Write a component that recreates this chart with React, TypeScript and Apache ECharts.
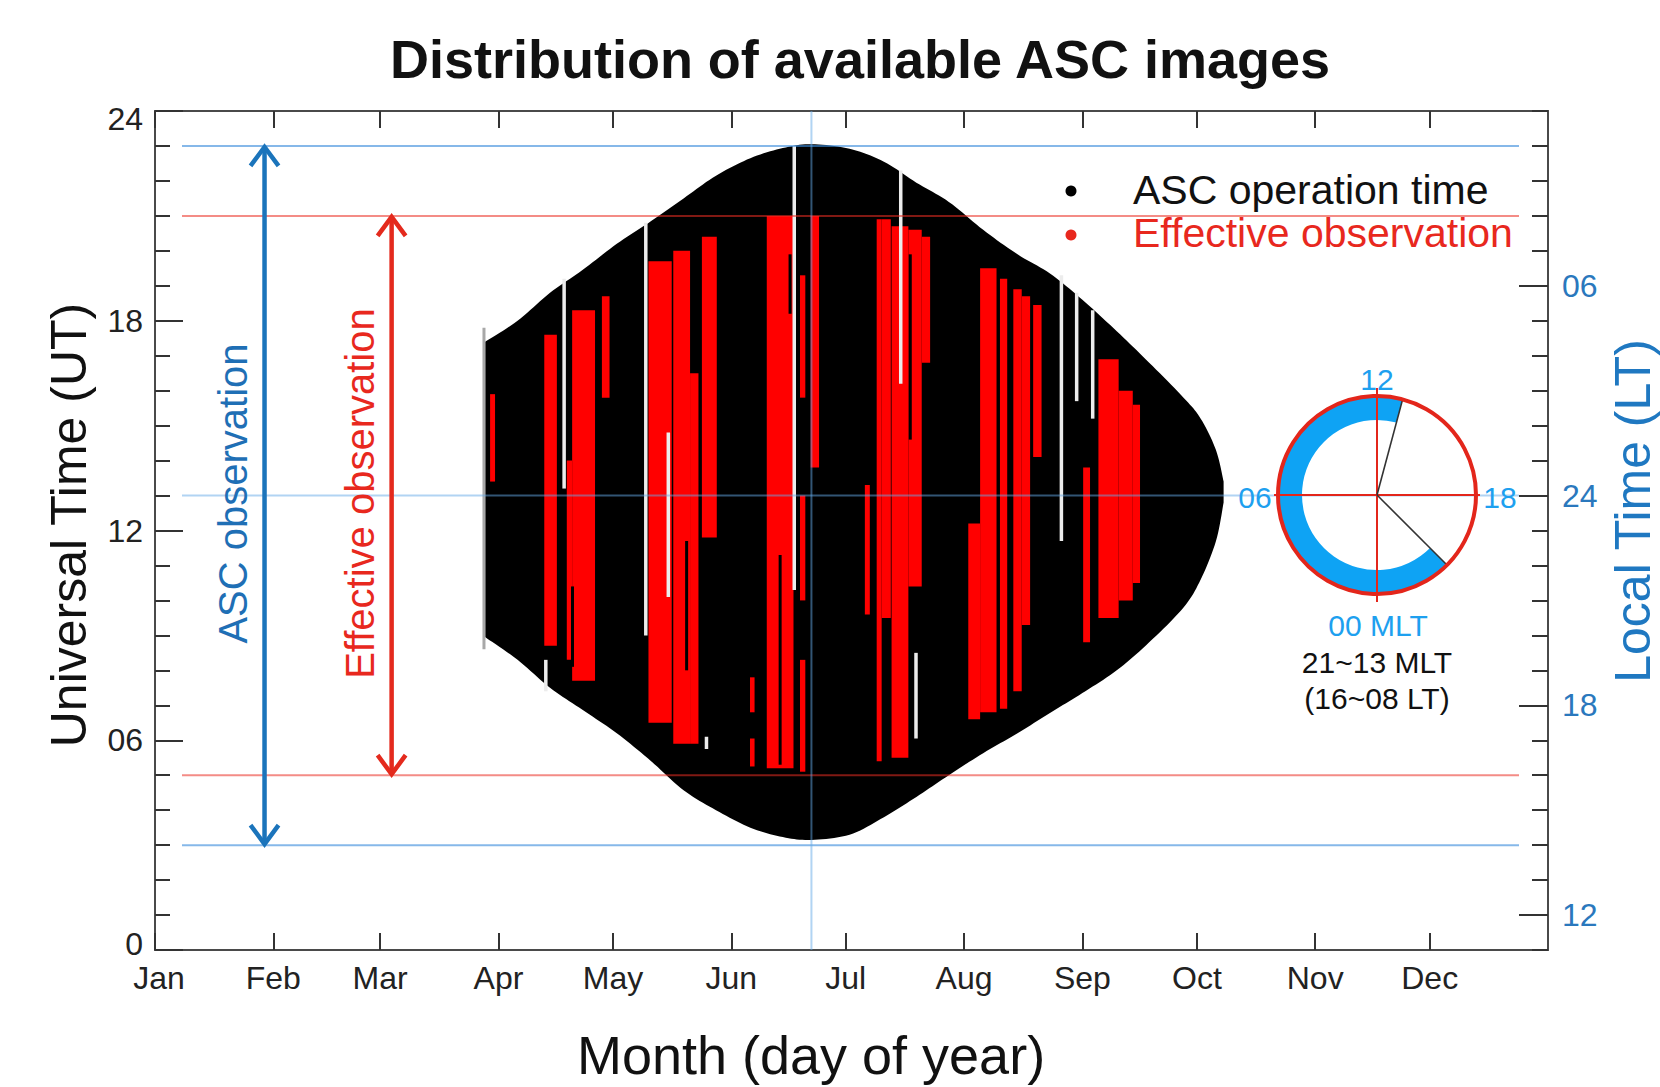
import { useEffect, useRef } from "react";
import * as echarts from "echarts";

const FONT = '"Liberation Sans", Arial, Helvetica, sans-serif';

// Month boundaries (day of year) and labels for the bottom axis
const monthStartDays = [0, 31, 59, 90, 120, 151, 181, 212, 243, 273, 304, 334];
const monthLabels = ["Jan", "Feb", "Mar", "Apr", "May", "Jun", "Jul", "Aug", "Sep", "Oct", "Nov", "Dec"];

// Universal Time ticks (left axis)
const utTickValues = [0, 6, 12, 18, 24];
const utTickLabels = ["0", "06", "12", "18", "24"];

// Local Time ticks (right axis): UT positions and their LT labels (LT = UT + 11)
const ltTickUT = [1, 7, 13, 19];
const ltTickLabels = ["12", "18", "24", "06"];

// Envelope of ASC operation time: day of year, upper and lower UT
const opDays = [86.5, 95, 103.5, 112, 121, 130, 138.5, 147, 156, 164.5, 172, 182, 191, 199.5, 208, 217, 226, 234.5, 243, 252, 260.5, 269.5, 274, 278, 280];
const opTopUT = [17.4, 18.0, 18.8, 19.45, 20.2, 20.85, 21.5, 22.15, 22.65, 22.94, 23.05, 22.92, 22.55, 21.95, 21.4, 20.6, 19.9, 19.35, 18.6, 17.7, 16.8, 15.8, 15.2, 14.3, 13.4];
const opBottomUT = [8.95, 8.3, 7.5, 6.87, 6.2, 5.4, 4.57, 4.0, 3.5, 3.23, 3.15, 3.3, 3.8, 4.38, 5.0, 5.63, 6.2, 6.78, 7.35, 8.0, 8.8, 9.8, 10.6, 11.7, 12.8];

// Effective observation blocks: [start day, end day, lower UT, upper UT]
const effectiveBlocks = [
  [87.8, 89.1, 13.4, 15.9],
  [102.0, 105.3, 8.7, 17.6],
  [107.9, 109.3, 8.3, 14.0],
  [109.3, 115.3, 7.7, 18.3],
  [117.1, 119.1, 15.8, 18.7],
  [129.3, 135.4, 6.5, 19.7],
  [135.8, 140.2, 5.9, 20.0],
  [140.2, 142.4, 5.9, 16.5],
  [143.3, 147.2, 11.8, 20.4],
  [155.9, 157.1, 6.8, 7.8],
  [155.9, 157.1, 5.25, 6.05],
  [160.3, 167.3, 5.2, 21.0],
  [169.0, 170.4, 15.8, 19.3],
  [169.0, 170.4, 10.0, 13.0],
  [169.0, 170.4, 5.1, 8.3],
  [171.8, 174.0, 13.8, 21.0],
  [186.0, 187.3, 9.6, 13.3],
  [189.1, 190.4, 5.4, 20.9],
  [190.4, 192.8, 9.5, 20.9],
  [193.0, 197.4, 5.5, 20.7],
  [197.4, 200.9, 10.4, 20.6],
  [200.9, 203.1, 16.8, 20.4],
  [213.1, 216.2, 6.6, 12.2],
  [216.2, 220.5, 6.8, 19.5],
  [221.4, 223.3, 6.9, 19.2],
  [224.9, 227.1, 7.4, 18.9],
  [227.1, 229.3, 9.3, 18.7],
  [230.1, 232.3, 14.1, 18.45],
  [243.2, 245.0, 8.8, 13.8],
  [247.2, 252.5, 9.5, 16.9],
  [252.5, 256.2, 10.0, 16.0],
  [256.2, 258.1, 10.5, 15.6],
];

// Dark streaks inside effective blocks: [day, lower UT, upper UT]
const darkStreaks = [
  [109.4, 8.1, 10.4],
  [139.3, 8.0, 11.7],
  [163.8, 5.3, 11.3],
  [166.4, 18.2, 19.9],
  [197.9, 14.6, 19.9],
];

// Days with missing images: [day, lower UT, upper UT]
const missingLines = [
  [102.4, 7.4, 8.3],
  [107.2, 13.2, 19.2],
  [128.6, 9.0, 20.8],
  [134.5, 10.1, 14.8],
  [144.5, 5.75, 6.1],
  [167.5, 10.3, 23.0],
  [195.4, 16.2, 22.3],
  [199.4, 6.05, 8.5],
  [237.5, 11.7, 19.3],
  [241.5, 15.7, 18.8],
  [245.7, 15.2, 18.3],
];
const firstDayLine = [86.2, 8.6, 17.8];

// Reference levels
const ascLimitsUT = [3, 23];
const effectiveLimitsUT = [5, 21];
const midnightUT = 13;
const solsticeDay = 172;

// Range arrows: day position, lower UT, upper UT, label
const arrowDays = [28.7, 62.0];
const arrowLowUT = [3, 5];
const arrowHighUT = [23, 21];
const arrowLabels = ["ASC observation", "Effective observation"];
const arrowColors = ["#1b74bb", "#e42a1d"];
const arrowTextColors = ["#1f6fb5", "#e8281e"];

// MLT coverage of the camera field of view
const mltStart = 21;
const mltEnd = 13;

const BLUE_LINE = "rgba(60,140,220,0.62)";
const LIGHT_BLUE_LINE = "rgba(100,170,232,0.5)";
const RED_LINE = "rgba(235,45,35,0.55)";

// Smooth open curve through pixel points (Catmull-Rom), used to draw the envelope edges
function smoothCurve(pts: number[][], steps = 10): number[][] {
  const out: number[][] = [];
  const n = pts.length;
  for (let i = 0; i < n - 1; i++) {
    const p0 = pts[Math.max(i - 1, 0)];
    const p1 = pts[i];
    const p2 = pts[i + 1];
    const p3 = pts[Math.min(i + 2, n - 1)];
    for (let s = 0; s < steps; s++) {
      const t = s / steps;
      const t2 = t * t;
      const t3 = t2 * t;
      const f = (a: number, b: number, c: number, d: number) =>
        0.5 * (2 * b + (-a + c) * t + (2 * a - 5 * b + 4 * c - d) * t2 + (-a + 3 * b - 3 * c + d) * t3);
      out.push([f(p0[0], p1[0], p2[0], p3[0]), f(p0[1], p1[1], p2[1], p3[1])]);
    }
  }
  out.push(pts[n - 1]);
  return out;
}

function blockRenderer(color: string) {
  return (params: any, api: any) => {
    const p0 = api.coord([api.value(0), api.value(3)]);
    const p1 = api.coord([api.value(1), api.value(2)]);
    return {
      type: "rect",
      shape: { x: p0[0], y: p0[1], width: p1[0] - p0[0], height: p1[1] - p0[1] },
      style: { fill: color },
    };
  };
}

function streakRenderer(color: string, width: number) {
  return (params: any, api: any) => {
    const p0 = api.coord([api.value(0), api.value(2)]);
    const p1 = api.coord([api.value(0), api.value(1)]);
    return {
      type: "rect",
      shape: { x: p0[0] - width / 2, y: p0[1], width, height: p1[1] - p0[1] },
      style: { fill: color },
    };
  };
}

function buildOption() {
  const axisLineStyle = { color: "#4a4a4a", width: 2 };
  const tickLineStyle = { color: "#333", width: 2 };
  const axisLine = { show: true, onZero: false, lineStyle: axisLineStyle };

  const hLevels = [...ascLimitsUT, ...effectiveLimitsUT, midnightUT];
  const hColors = [BLUE_LINE, BLUE_LINE, RED_LINE, RED_LINE, LIGHT_BLUE_LINE];

  // Clock inset (MLT dial)
  const cx = 1377;
  const cy = 495;
  const R = 99;
  const r0 = 75;
  const mltAngle = (m: number) => -Math.PI / 2 + ((m - 12) * Math.PI) / 12;
  const a0 = mltAngle(mltStart);
  const a1 = mltAngle(mltEnd) + 2 * Math.PI;
  const spoke = (m: number) => {
    const a = mltAngle(m);
    return {
      type: "line",
      z: 102,
      shape: { x1: cx, y1: cy, x2: cx + R * Math.cos(a), y2: cy + R * Math.sin(a) },
      style: { stroke: "#333", lineWidth: 1.6 },
    };
  };
  const txt = (text: string, x: number, y: number, size: number, color: string, extra: any = {}) => ({
    type: "text",
    x,
    y,
    z: 110,
    ...extra,
    style: {
      text,
      fill: color,
      fontSize: size,
      fontFamily: FONT,
      align: "center",
      verticalAlign: "middle",
      ...(extra.style || {}),
    },
  });

  return {
    animation: false,
    backgroundColor: "#ffffff",
    grid: { left: 155, top: 111, right: 112, bottom: 137, outerBoundsMode: "none" },
    xAxis: [
      {
        type: "value",
        position: "bottom",
        min: 0,
        max: 365,
        axisLine,
        axisTick: { show: true, inside: true, length: 17, lineStyle: tickLineStyle, customValues: monthStartDays },
        axisLabel: {
          show: true,
          customValues: monthStartDays,
          margin: 12,
          color: "#222",
          fontSize: 32,
          fontFamily: FONT,
          formatter: (v: number) => {
            const i = monthStartDays.indexOf(Math.round(v));
            return i === 0 ? "{first|" + monthLabels[0] + "}" : monthLabels[i] ?? "";
          },
          rich: { first: { fontSize: 32, fontFamily: FONT, color: "#222", padding: [0, 0, 0, 8] } },
        },
        splitLine: { show: false },
      },
      {
        type: "value",
        position: "top",
        min: 0,
        max: 365,
        axisLine,
        axisTick: { show: true, inside: true, length: 17, lineStyle: tickLineStyle, customValues: monthStartDays },
        axisLabel: { show: false },
        splitLine: { show: false },
      },
    ],
    yAxis: [
      {
        type: "value",
        position: "left",
        min: 0,
        max: 24,
        interval: 6,
        axisLine,
        axisTick: { show: true, inside: true, length: 28, lineStyle: tickLineStyle },
        axisLabel: {
          margin: 12,
          color: "#222",
          fontSize: 32,
          fontFamily: FONT,
          formatter: (v: number) => {
            const i = utTickValues.indexOf(Math.round(v));
            if (i === 0) return "{low|" + utTickLabels[i] + "}";
            if (i === utTickValues.length - 1) return "{high|" + utTickLabels[i] + "}";
            return utTickLabels[i] ?? "";
          },
          rich: {
            low: { fontSize: 32, fontFamily: FONT, color: "#222", padding: [0, 0, 12, 0] },
            high: { fontSize: 32, fontFamily: FONT, color: "#222", padding: [16, 0, 0, 0] },
          },
        },
        splitLine: { show: false },
      },
      {
        // hourly minor ticks on the UT side
        type: "value",
        position: "left",
        min: 0,
        max: 24,
        interval: 1,
        axisLine,
        axisTick: { show: true, inside: true, length: 15, lineStyle: tickLineStyle },
        axisLabel: { show: false },
        splitLine: { show: false },
      },
      {
        // hourly ticks on the LT side
        type: "value",
        position: "right",
        min: 0,
        max: 24,
        interval: 1,
        axisLine,
        axisTick: { show: true, inside: true, length: 16, lineStyle: tickLineStyle },
        axisLabel: { show: false },
        splitLine: { show: false },
      },
      {
        type: "value",
        position: "right",
        min: 0,
        max: 24,
        axisLine,
        axisTick: { show: true, inside: true, length: 29, lineStyle: tickLineStyle, customValues: ltTickUT },
        axisLabel: {
          show: true,
          customValues: ltTickUT,
          margin: 14,
          color: "#2a78bd",
          fontSize: 32,
          fontFamily: FONT,
          formatter: (v: number) => ltTickLabels[ltTickUT.indexOf(Math.round(v))] ?? "",
        },
        splitLine: { show: false },
      },
    ],
    series: [
      {
        // ASC operation time envelope
        type: "custom",
        name: "ASC operation time",
        silent: true,
        z: 1,
        data: opDays.map((d, i) => [d, opTopUT[i], opBottomUT[i]]),
        encode: { x: 0, y: [1, 2] },
        renderItem: (params: any, api: any) => {
          if (params.dataIndex !== 0) return null;
          const top = smoothCurve(opDays.map((d, i) => api.coord([d, opTopUT[i]])));
          const bottom = smoothCurve(opDays.map((d, i) => api.coord([d, opBottomUT[i]]))).reverse();
          return {
            type: "polygon",
            shape: { points: [...top, ...bottom] },
            style: { fill: "#000" },
          };
        },
      },
      {
        type: "custom",
        name: "Effective observation",
        silent: true,
        z: 2,
        data: effectiveBlocks,
        encode: { x: [0, 1], y: [2, 3] },
        renderItem: blockRenderer("#ff0000"),
      },
      {
        type: "custom",
        silent: true,
        z: 3,
        data: darkStreaks,
        encode: { x: 0, y: [1, 2] },
        renderItem: streakRenderer("#000", 3),
      },
      {
        type: "custom",
        silent: true,
        z: 4,
        data: missingLines,
        encode: { x: 0, y: [1, 2] },
        renderItem: streakRenderer("#ececec", 3.5),
      },
      {
        type: "custom",
        silent: true,
        z: 4,
        data: [firstDayLine],
        encode: { x: 0, y: [1, 2] },
        renderItem: streakRenderer("#a8a8a8", 3),
      },
      {
        // Reference levels across the panel
        type: "custom",
        silent: true,
        z: 5,
        data: hLevels.map((v, i) => [i, v]),
        encode: { y: 1 },
        renderItem: (params: any, api: any) => {
          const cs = params.coordSys;
          const y = api.coord([0, api.value(1)])[1];
          return {
            type: "line",
            shape: { x1: cs.x + 27, y1: y, x2: cs.x + cs.width - 29, y2: y },
            style: { stroke: hColors[params.dataIndex], lineWidth: 2 },
          };
        },
      },
      {
        type: "custom",
        silent: true,
        z: 5,
        data: [[solsticeDay, 0]],
        encode: { x: 0 },
        renderItem: (params: any, api: any) => {
          const cs = params.coordSys;
          const x = api.coord([api.value(0), 0])[0];
          return {
            type: "line",
            shape: { x1: x, y1: cs.y, x2: x, y2: cs.y + cs.height },
            style: { stroke: LIGHT_BLUE_LINE, lineWidth: 2 },
          };
        },
      },
      {
        // Double-headed range arrows with their labels
        type: "custom",
        silent: true,
        z: 6,
        data: arrowDays.map((d, i) => [d, arrowLowUT[i], arrowHighUT[i]]),
        encode: { x: 0, y: [1, 2] },
        renderItem: (params: any, api: any) => {
          const i = params.dataIndex;
          const top = api.coord([api.value(0), api.value(2)]);
          const bot = api.coord([api.value(0), api.value(1)]);
          const x = top[0];
          const color = arrowColors[i];
          const lw = 4.5;
          const w = 14;
          const h = 20;
          const mid = api.coord([api.value(0), (api.value(1) + api.value(2)) / 2]);
          return {
            type: "group",
            children: [
              { type: "line", shape: { x1: x, y1: top[1] + 2, x2: x, y2: bot[1] - 2 }, style: { stroke: color, lineWidth: lw } },
              {
                type: "polyline",
                shape: { points: [[x - w, top[1] + h], [x, top[1] + 1], [x + w, top[1] + h]] },
                style: { stroke: color, lineWidth: lw, fill: null },
              },
              {
                type: "polyline",
                shape: { points: [[x - w, bot[1] - h], [x, bot[1] - 1], [x + w, bot[1] - h]] },
                style: { stroke: color, lineWidth: lw, fill: null },
              },
              {
                type: "text",
                x: x - 31.5,
                y: mid[1] - 2,
                rotation: Math.PI / 2,
                style: {
                  text: arrowLabels[i],
                  fill: arrowTextColors[i],
                  fontSize: 40,
                  fontFamily: FONT,
                  align: "center",
                  verticalAlign: "middle",
                },
              },
            ],
          };
        },
      },
    ],
    graphic: [
      txt("Distribution of available ASC images", 860, 59, 54, "#111", { style: { fontWeight: "bold" } }),
      txt("Universal Time (UT)", 69, 525, 50, "#111", { rotation: Math.PI / 2 }),
      txt("Month (day of year)", 811, 1055, 54, "#111"),
      txt("Local Time (LT)", 1633, 511, 50, "#1f78c1", { rotation: Math.PI / 2 }),
      // Legend
      { type: "circle", z: 110, shape: { cx: 1071, cy: 191, r: 5.5 }, style: { fill: "#000" } },
      { type: "circle", z: 110, shape: { cx: 1071, cy: 235, r: 5.5 }, style: { fill: "#e8281e" } },
      txt("ASC operation time", 1133, 190, 41, "#111", { style: { align: "left" } }),
      txt("Effective observation", 1133, 233, 41, "#e8281e", { style: { align: "left" } }),
      // MLT dial
      {
        type: "sector",
        z: 100,
        shape: { cx, cy, r0, r: R, startAngle: a0, endAngle: a1, clockwise: true },
        style: { fill: "#0ea3f4" },
      },
      { type: "line", z: 101, shape: { x1: cx, y1: cy - R - 8, x2: cx, y2: cy + R + 8 }, style: { stroke: "#e3261b", lineWidth: 2 } },
      { type: "line", z: 101, shape: { x1: cx - R - 4, y1: cy, x2: cx + R + 4, y2: cy }, style: { stroke: "#e3261b", lineWidth: 2 } },
      spoke(mltStart),
      spoke(mltEnd),
      { type: "circle", z: 103, shape: { cx, cy, r: R }, style: { fill: null, stroke: "#e3261b", lineWidth: 4 } },
      txt("12", cx, cy - R - 17, 30, "#1ea0ef"),
      txt("06", cx - R - 23, cy + 2, 30, "#1ea0ef"),
      txt("18", cx + R + 24, cy + 2, 30, "#1ea0ef"),
      txt("00 MLT", cx + 1, 625, 30, "#1ea0ef"),
      txt("21~13 MLT", cx, 662, 30, "#111"),
      txt("(16~08 LT)", cx, 698, 30, "#111"),
    ],
  };
}

export default function App() {
  const ref = useRef<HTMLDivElement>(null);
  useEffect(() => {
    if (!ref.current) return;
    const chart = echarts.init(ref.current, null, { renderer: "svg" });
    chart.setOption(buildOption() as any);
    return () => chart.dispose();
  }, []);
  return (
    <div
      ref={ref}
      style={{ position: "fixed", left: 0, top: 0, width: 1660, height: 1087, background: "#fff" }}
    />
  );
}
